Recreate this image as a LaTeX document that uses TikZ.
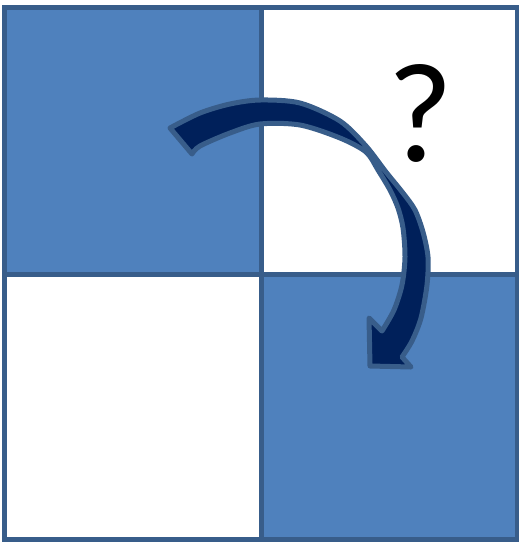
\documentclass[tikz,border=0pt]{standalone}
\usepackage{fontspec}
\setmainfont{Carlito}
\definecolor{cellblue}{HTML}{4F81BD}
\definecolor{edgeblue}{HTML}{385D8A}
\definecolor{navy}{HTML}{00205A}
\tikzset{
  cellfill/.style={fill=cellblue},
  gridline/.style={draw=edgeblue, line width=5pt},
  bigarrow/.style={fill=navy, draw=edgeblue, line width=5pt, line join=round},
  qmark/.style={inner sep=0pt, font=\fontsize{142}{142}\selectfont, text=black}
}
\begin{document}
\begin{tikzpicture}[x=1pt,y=-1pt]
\useasboundingbox (0,0) rectangle (519,542);
% cells
\fill[cellfill] (4,7.5) rectangle (261.5,274.5);
\fill[cellfill] (261.5,274.5) rectangle (517,539);
% grid lines
\draw[gridline] (4,7.5) rectangle (517,539);
\draw[gridline] (261.5,7.5) -- (261.5,539);
\draw[gridline] (4,274.5) -- (517,274.5);
% question mark
\node[qmark, anchor=base] (q) at (420,161) {?};
% curved arrow
\draw[bigarrow]
  plot[smooth] coordinates {(170,128) (200,113) (230,104) (260,100) (300,103) (340,121) (366,146) (386,172) (403,193) (415,210) (423,232) (428,257) (427,285) (421,318) (412,341) (402,357)}
  -- (411,367) -- (370,366) -- (369,318) -- (382,331)
  -- plot[smooth] coordinates {(382,331) (394,310) (402,285) (405,257) (403,228) (398,208) (390,190) (378,170) (366,152) (340,138) (300,125) (260,124) (230,133) (200,146) (192,154)}
  -- cycle;
\end{tikzpicture}
\end{document}
